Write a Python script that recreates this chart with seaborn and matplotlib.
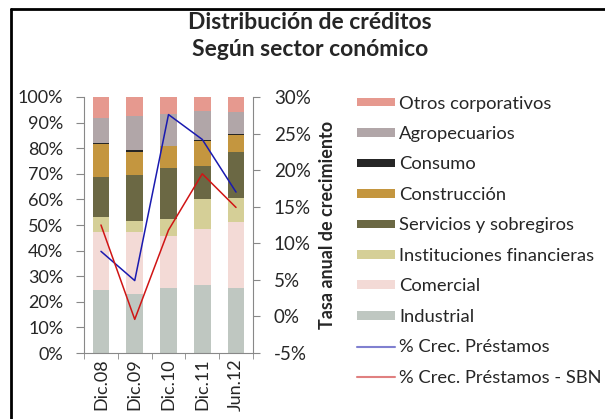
import numpy as np
import pandas as pd
import seaborn as sns
import matplotlib.pyplot as plt
from matplotlib.patches import Patch
from matplotlib.lines import Line2D

# Data (shares of total credit, %)
periods = ["Dic.08", "Dic.09", "Dic.10", "Dic.11", "Jun.12"]
industrial = [24.5, 23.2, 25.5, 26.7, 25.5]
comercial = [22.6, 24.1, 20.3, 21.9, 25.8]
inst_financieras = [5.9, 4.4, 6.4, 11.6, 9.2]
servicios = [15.6, 17.7, 19.9, 12.7, 17.9]
construccion = [12.9, 9.2, 8.6, 9.9, 6.6]
consumo = [0.7, 0.8, 0.3, 0.5, 0.5]
agropecuarios = [9.7, 13.2, 12.4, 11.2, 8.8]
otros = [8.1, 7.4, 6.6, 5.5, 5.7]

# Growth rates (%)
crec_prestamos = [8.9, 4.9, 27.6, 24.2, 17.0]
crec_prestamos_sbn = [12.5, -0.4, 11.8, 19.5, 14.9]

sectors = [
    ("Industrial", industrial, "#BFC7C1"),
    ("Comercial", comercial, "#F3DAD6"),
    ("Instituciones financieras", inst_financieras, "#D5CF97"),
    ("Servicios y sobregiros", servicios, "#6B6844"),
    ("Construcción", construccion, "#C4963F"),
    ("Consumo", consumo, "#262626"),
    ("Agropecuarios", agropecuarios, "#B1A6A8"),
    ("Otros corporativos", otros, "#E6998F"),
]

sns.set_style("white")
plt.rcParams["font.family"] = ["Lato", "DejaVu Sans"]
FS = 13

fig = plt.figure(figsize=(6.05, 4.19), dpi=100)
ax = fig.add_axes([0.139, 0.1575, 0.279, 0.611])

# stacked bars: draw cumulative totals from top to bottom
cum = np.cumsum(np.array([s[1] for s in sectors]), axis=0)
cum = cum / cum[-1] * 100
for i in range(len(sectors) - 1, -1, -1):
    df = pd.DataFrame({"period": periods, "value": cum[i]})
    sns.barplot(data=df, x="period", y="value", color=sectors[i][2],
                width=0.5, saturation=1, ax=ax, edgecolor="none")

ax.set_ylim(0, 100)
ax.set_xlim(-0.5, 4.5)
ax.set_yticks(np.arange(0, 101, 10))
ax.set_yticklabels([f"{v}%" for v in range(0, 101, 10)], fontsize=FS)
ax.set_xticks(range(5))
ax.set_xticklabels(periods, rotation=90, fontsize=FS)
ax.set_xticks(np.arange(-0.5, 5, 1), minor=True)
ax.tick_params(axis="x", which="major", length=0, pad=4)
ax.tick_params(axis="x", which="minor", length=4, color="#888888", direction="out", bottom=True)
ax.tick_params(axis="y", length=6, color="#888888", direction="out", left=True, pad=9)
ax.set_xlabel("")
ax.set_ylabel("")
for side in ["top", "right"]:
    ax.spines[side].set_visible(False)
for side in ["left", "bottom"]:
    ax.spines[side].set_color("#888888")

# growth lines on secondary axis
ax2 = ax.twinx()
sns.lineplot(x=np.arange(5), y=crec_prestamos, color="#1A1AB0", lw=1.1, ax=ax2)
sns.lineplot(x=np.arange(5), y=crec_prestamos_sbn, color="#D01515", lw=1.1, ax=ax2)
ax2.set_ylim(-5, 30)
ax2.set_yticks(np.arange(-5, 31, 5))
ax2.set_yticklabels([f"{v}%" for v in range(-5, 31, 5)], fontsize=13.5)
ax2.tick_params(axis="y", length=5, color="#888888", direction="out", right=True, pad=10)
ax2.set_ylabel("Tasa anual de crecimiento", fontsize=FS, fontweight="bold", labelpad=6)
for side in ["top", "left", "bottom"]:
    ax2.spines[side].set_visible(False)
ax2.spines["right"].set_color("#888888")
ax2.set_xlim(-0.5, 4.5)

fig.text(0.512, 0.947, "Distribución de créditos", ha="center", va="center",
         fontsize=16.5, fontweight="bold")
fig.text(0.512, 0.883, "Según sector conómico", ha="center", va="center",
         fontsize=16.5, fontweight="bold")

handles = [Patch(facecolor=c, edgecolor="none", label=n) for n, _, c in reversed(sectors)]
handles += [Line2D([], [], color="#8080D0", lw=1.5, label="% Crec. Préstamos"),
            Line2D([], [], color="#E08080", lw=1.5, label="% Crec. Préstamos - SBN")]
fig.legend(handles=handles, loc="upper left", bbox_to_anchor=(0.59, 0.772),
           frameon=False, fontsize=13.2, labelspacing=0.79, handlelength=2.05,
           handleheight=0.36, handletextpad=0.26, borderaxespad=0, borderpad=0)

# chart frame (left and top edges visible)
fig.add_artist(Line2D([0.019, 0.019], [0, 0.979], color="black", lw=2, transform=fig.transFigure))
fig.add_artist(Line2D([0.019, 1.0], [0.979, 0.979], color="black", lw=2, transform=fig.transFigure))

fig.savefig("out.png", dpi=100)
